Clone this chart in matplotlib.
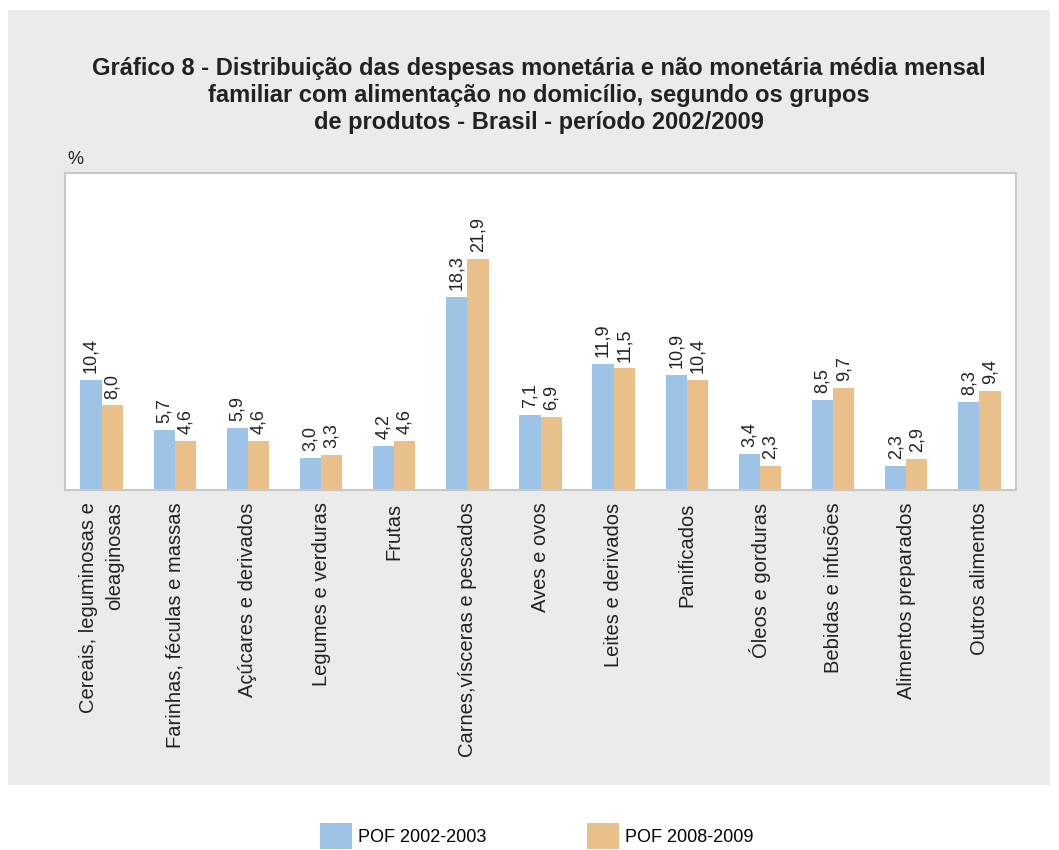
import matplotlib
matplotlib.use("Agg")
import matplotlib.pyplot as plt
from matplotlib.patches import Rectangle, Patch
import numpy as np

categories = [
    "Cereais, leguminosas e\noleaginosas",
    "Farinhas, féculas e massas",
    "Açúcares e derivados",
    "Legumes e verduras",
    "Frutas",
    "Carnes,vísceras e pescados",
    "Aves e ovos",
    "Leites e derivados",
    "Panificados",
    "Óleos e gorduras",
    "Bebidas e infusões",
    "Alimentos preparados",
    "Outros alimentos",
]
pof_2002 = [10.4, 5.7, 5.9, 3.0, 4.2, 18.3, 7.1, 11.9, 10.9, 3.4, 8.5, 2.3, 8.3]
pof_2008 = [8.0, 4.6, 4.6, 3.3, 4.6, 21.9, 6.9, 11.5, 10.4, 2.3, 9.7, 2.9, 9.4]
series_names = ["POF 2002-2003", "POF 2008-2009"]

title = ("Gráfico 8 - Distribuição das despesas monetária e não monetária média mensal\n"
         "familiar com alimentação no domicílio, segundo os grupos\n"
         "de produtos - Brasil - período 2002/2009")

blue = "#9DC3E6"
orange = "#E9C08A"
bg = "#EBEBEB"

plt.rcParams['font.family'] = ['Liberation Sans', 'DejaVu Sans']

W, H = 1059, 850
fig = plt.figure(figsize=(W / 100, H / 100), dpi=100)
fig.patch.set_facecolor("white")

# gray panel
fig.patches.append(Rectangle((8 / W, 1 - 785 / H), (1050 - 8) / W, (785 - 10) / H,
                             transform=fig.transFigure, facecolor=bg, edgecolor="none", zorder=-10))

ax = fig.add_axes([65 / W, 1 - 490 / H, (1016 - 65) / W, (490 - 173) / H])
ax.set_zorder(5)
ax.set_facecolor("white")
for s in ax.spines.values():
    s.set_color("#C8C8C8")
    s.set_linewidth(1.5)

x = np.arange(len(categories))
w = 0.29
b1 = ax.bar(x - w / 2, pof_2002, w, color=blue, label=series_names[0], zorder=2)
b2 = ax.bar(x + w / 2, pof_2008, w, color=orange, label=series_names[1], zorder=2)

for bars, vals in ((b1, pof_2002), (b2, pof_2008)):
    for r, v in zip(bars, vals):
        ax.annotate(f"{v:.1f}".replace(".", ","),
                    (r.get_x() + r.get_width() / 2, r.get_height()),
                    xytext=(0, 5), textcoords="offset points",
                    rotation=90, ha="center", va="bottom", fontsize=13, color="#222222")

ax.set_xlim(-0.5, len(categories) - 0.5)
ax.set_ylim(0, 30)
ax.set_yticks([])
ax.set_xticks(x)
ax.set_xticklabels(categories, rotation=90, fontsize=14.5, color="#222222",
                   va="top", ha="center", multialignment="right", linespacing=1.48)
ax.tick_params(axis="x", length=0, pad=9)

fig.text(67 / W, 1 - 160 / H, "%", fontsize=13, color="#222222", ha="left", va="center")

fig.text(539 / W, 1 - 95.5 / H, title, fontsize=17, fontweight="bold",
         ha="center", va="center", color="#222222", linespacing=1.25)

handles = [Patch(facecolor=blue, edgecolor="none"), Patch(facecolor=orange, edgecolor="none")]
leg = fig.legend(handles, series_names, loc="center", bbox_to_anchor=(537 / W, 1 - 836 / H),
                 ncol=2, frameon=False, fontsize=13, handlelength=1.75, handleheight=1.9,
                 handletextpad=0.35, columnspacing=5.57, borderaxespad=0)

fig.savefig("out.png", dpi=100, facecolor=fig.get_facecolor())
